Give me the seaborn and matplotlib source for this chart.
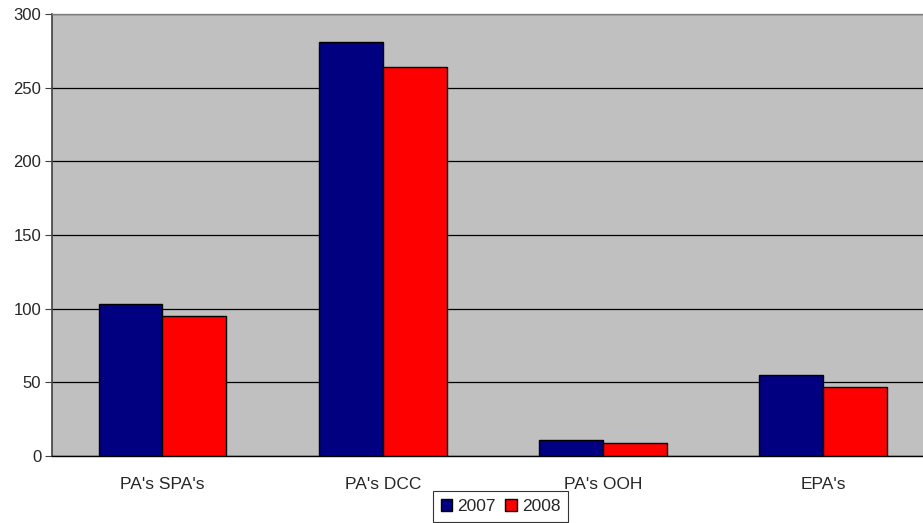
import matplotlib
matplotlib.use("Agg")
import matplotlib.pyplot as plt
import seaborn as sns
import pandas as pd

categories = ["PA's SPA's", "PA's DCC", "PA's OOH", "EPA's"]
values_2007 = [103, 281, 11, 55]
values_2008 = [95, 264, 9, 47]
years = ["2007", "2008"]
colors = ["#000080", "#FF0000"]

df = pd.DataFrame({
    "category": categories * 2,
    "value": values_2007 + values_2008,
    "year": [years[0]] * len(categories) + [years[1]] * len(categories),
})

sns.set_theme(style="white")
plt.rcParams["font.family"] = ["Liberation Sans", "DejaVu Sans"]

fig = plt.figure(figsize=(9.23, 5.23), dpi=100)
W, H = 923, 523
left, right, top, bottom = 52.3, 933.5, 14, 456
ax = fig.add_axes([left / W, 1 - bottom / H, (right - left) / W, (bottom - top) / H])
ax.set_facecolor("#C0C0C0")

sns.barplot(data=df, x="category", y="value", hue="year", order=categories,
            hue_order=years, palette=colors, width=0.58, gap=0,
            edgecolor="black", linewidth=1.0, saturation=1, ax=ax, zorder=3)

ax.set_ylim(0, 300)
ax.set_xlim(-0.5, 3.5)
ax.set_yticks(range(0, 301, 50))
ax.yaxis.grid(True, color="black", linewidth=0.9, zorder=0)
ax.set_axisbelow(True)
ax.set_xlabel("")
ax.set_ylabel("")

# category boundary ticks below the axis
ax.set_xticks([0, 1, 2, 3])
ax.set_xticklabels(categories, fontsize=12.5)
ax.set_xticks([0.5, 1.5, 2.5], minor=True)
ax.tick_params(axis="x", which="major", length=0, pad=15)
ax.tick_params(axis="x", which="minor", length=5, width=0.8, color="#404040", direction="out")
ax.tick_params(axis="y", length=5, width=0.8, color="#404040", direction="out",
               labelsize=12, pad=3, left=True)

for side in ["top", "right"]:
    ax.spines[side].set_color("#808080")
    ax.spines[side].set_linewidth(1.0)
ax.spines["left"].set_color("#404040")
ax.spines["left"].set_linewidth(1.2)
ax.spines["bottom"].set_color("black")
ax.spines["bottom"].set_linewidth(1.0)

ax.legend_.remove()
handles = [plt.Rectangle((0, 0), 1, 1, facecolor=c, edgecolor="black", linewidth=1.0)
           for c in colors]
leg = fig.legend(handles, years, loc="upper left", bbox_to_anchor=(433 / W, 1 - 491 / H),
                 ncol=2, frameon=True, fancybox=False, fontsize=12.5,
                 handlelength=0.65, handleheight=0.65, handletextpad=0.3,
                 columnspacing=0.55, borderpad=0.45, borderaxespad=0)
leg.get_frame().set_edgecolor("black")
leg.get_frame().set_linewidth(0.8)

fig.savefig("out.png", dpi=100)
